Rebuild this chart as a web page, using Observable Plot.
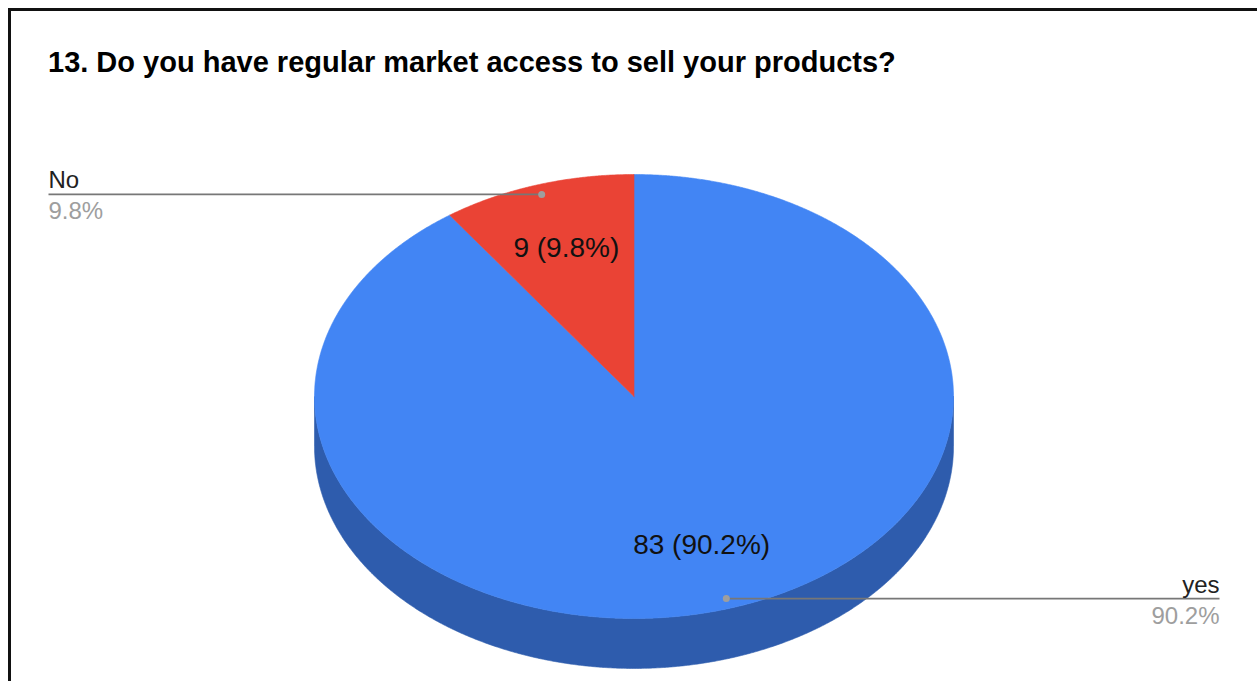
<!DOCTYPE html>
<html><head><meta charset="utf-8">
<script src="https://cdn.jsdelivr.net/npm/d3@7"></script>
<script src="https://cdn.jsdelivr.net/npm/@observablehq/plot@0.6"></script>
<style>
html,body{margin:0;padding:0;background:#fff;width:1257px;height:681px;overflow:hidden;font-family:"Liberation Sans",Arial,Helvetica,sans-serif;}
#frame{position:absolute;left:8px;top:8px;width:1300px;height:700px;border-left:3px solid #111;border-top:3px solid #111;}
#title{position:absolute;left:48px;top:45px;font-size:29px;line-height:34px;font-weight:bold;color:#000;white-space:nowrap;}
#chart{position:absolute;left:0;top:100px;}
</style></head><body>
<div id="frame"></div>
<div id="title">13. Do you have regular market access to sell your products?</div>
<div id="chart"></div>
<script>
// ---- data ----
const categories = ["yes", "No"];
const counts = [83, 9];

// ---- style ----
const topColors = ["#4285f4", "#ea4335"];
const sideColors = ["#2e5cad", "#a32f25"];
const X_RANGE = [314, 953];
const Y_RANGE = [74, 518];
const DEPTH = 0.225;      // pie thickness in y units
const DOT_R = 0.955;      // leader dot radius
const INNER_R = 0.70;     // inner label radius
const total = d3.sum(counts);
const pct = d3.format(".1%");

const sx = d3.scaleLinear([-1, 1], X_RANGE);
const arcs = d3.pie().sort(null).startAngle(0).endAngle(2 * Math.PI)(counts);
const pt = (a, r) => [r * Math.sin(a), -r * Math.cos(a)];

const faces = [], sides = [];
arcs.forEach((arc, i) => {
  const key = categories[i];
  const n = Math.max(4, Math.ceil((arc.endAngle - arc.startAngle) / 0.005));
  const poly = [[0, 0]];
  for (let k = 0; k <= n; k++) poly.push(pt(arc.startAngle + (arc.endAngle - arc.startAngle) * k / n, 1));
  poly.push([0, 0]);
  poly.forEach(([x, y]) => faces.push({id: key, key, x, y}));
  // front rim (visible between 90° and 270° clockwise from top)
  const s0 = Math.max(arc.startAngle, Math.PI / 2), s1 = Math.min(arc.endAngle, 3 * Math.PI / 2);
  if (s1 > s0) {
    const m = Math.ceil((s1 - s0) / 0.005);
    const upper = [], lower = [];
    for (let k = 0; k <= m; k++) {
      const [x, y] = pt(s0 + (s1 - s0) * k / m, 1);
      upper.push([x, y]); lower.push([x, y + DEPTH]);
    }
    upper.concat(lower.reverse()).concat([upper[0]]).forEach(([x, y]) => sides.push({id: key + " side", key: key + " side", x, y}));
  }
});

const labels = arcs.map((arc, i) => {
  const mid = (arc.startAngle + arc.endAngle) / 2;
  const [dx, dy] = pt(mid, DOT_R);
  const [ix, iy] = pt(mid, INNER_R);
  const left = mid > Math.PI;
  return {
    name: categories[i],
    share: pct(counts[i] / total),
    inner: `${counts[i]} (${pct(counts[i] / total)})`,
    dx, dy, ix, iy, left,
    lx: sx.invert(left ? 48 : 1219)
  };
});
const leftLabels = labels.filter(d => d.left);
const rightLabels = labels.filter(d => !d.left);

const colorDomain = categories.concat(categories.map(c => c + " side"));
const colorRange = topColors.concat(sideColors);

const outerText = (data, anchor) => [
  Plot.text(data, {x: "lx", y: "dy", text: "name", textAnchor: anchor, lineAnchor: "bottom", dy: -6, fontSize: 24, fill: "#222"}),
  Plot.text(data, {x: "lx", y: "dy", text: "share", textAnchor: anchor, lineAnchor: "top", dy: 8, fontSize: 24, fill: "#9e9e9e"})
];

const chart = Plot.plot({
  width: 1257,
  height: 581,
  margin: 0,
  x: {domain: [-1, 1], range: X_RANGE, axis: null},
  y: {domain: [-1, 1], range: Y_RANGE, axis: null},
  color: {type: "ordinal", domain: colorDomain, range: colorRange},
  style: {background: "transparent", overflow: "visible", fontFamily: "'Liberation Sans', Arial, Helvetica, sans-serif"},
  marks: [
    Plot.line(sides, {x: "x", y: "y", z: "id", fill: "key", stroke: "key", strokeWidth: 0.6}),
    Plot.line(faces, {x: "x", y: "y", z: "id", fill: "key", stroke: "key", strokeWidth: 0.6}),
    Plot.link(labels, {x1: "dx", y1: "dy", x2: "lx", y2: "dy", stroke: "#777777", strokeWidth: 1.6}),
    Plot.dot(labels, {x: "dx", y: "dy", r: 3.5, fill: "#9e9e9e", stroke: "none"}),
    ...outerText(leftLabels, "start"),
    ...outerText(rightLabels, "end"),
    Plot.text(labels, {x: "ix", y: "iy", text: "inner", fontSize: 28, fill: "#111", lineAnchor: "middle"})
  ]
});
document.getElementById("chart").appendChild(chart);
</script>
</body></html>
